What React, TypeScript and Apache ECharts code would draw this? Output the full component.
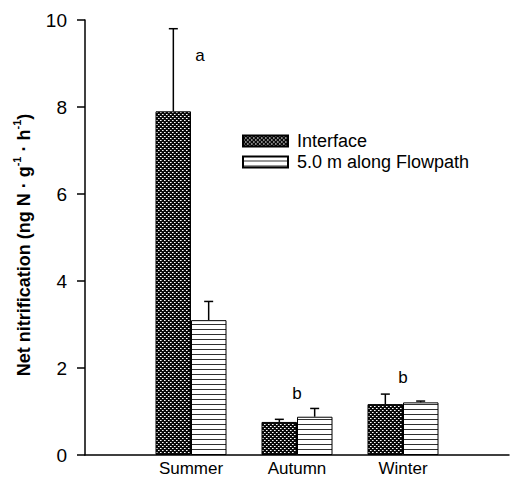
import React, { useEffect, useRef } from "react";
import * as echarts from "echarts";

const categories = ["", "Summer", "Autumn", "Winter", ""];
const interfaceValues: (number | string)[] = ["-", 7.9, 0.76, 1.17, "-"];
const interfaceErrTop = [9.8, 0.82, 1.4];
const flowpathValues: (number | string)[] = ["-", 3.1, 0.88, 1.21, "-"];
const flowpathErrTop = [3.53, 1.07, 1.24];
const seasonIndex = [1, 2, 3];
const letterText = ["a", "b", "b"];
const letterValue = [9.18, 1.42, 1.79];
const letterDx = [9, 0, 0];
const yTicks = [0, 2, 4, 6, 8, 10];

function makeDots(): HTMLCanvasElement {
  const c = document.createElement("canvas");
  c.width = 4;
  c.height = 4;
  const g = c.getContext("2d")!;
  g.fillStyle = "#0a0a0a";
  g.fillRect(0, 0, 4, 4);
  g.fillStyle = "#ffffff";
  g.fillRect(0, 0, 1, 1);
  g.fillRect(2, 2, 1, 1);
  g.fillStyle = "#9a9a9a";
  g.fillRect(1, 0, 1, 1);
  g.fillRect(3, 2, 1, 1);
  return c;
}

function makeLines(): HTMLCanvasElement {
  const c = document.createElement("canvas");
  c.width = 4;
  c.height = 5;
  const g = c.getContext("2d")!;
  g.fillStyle = "#ffffff";
  g.fillRect(0, 0, 4, 5);
  g.fillStyle = "#303030";
  g.fillRect(0, 4, 4, 1);
  return c;
}

export default function App() {
  const ref = useRef<HTMLDivElement>(null);
  useEffect(() => {
    if (!ref.current) return;
    const chart = echarts.init(ref.current, undefined, { renderer: "svg" });
    const dots = makeDots();
    const lines = makeLines();
    const dotPattern: any = { image: dots.toDataURL(), repeat: "repeat", imageWidth: 4, imageHeight: 4 };
    const linePattern: any = { image: lines.toDataURL(), repeat: "repeat", imageWidth: 4, imageHeight: 5 };
    const font = "Liberation Sans, Arial, sans-serif";

    const errSeries = (tops: number[], vals: (number | string)[], sign: number) => ({
      type: "custom",
      silent: true,
      z: 1,
      data: seasonIndex.map((ci, i) => [ci, vals[ci] as number, tops[i]]),
      renderItem: (params: any, api: any) => {
        const x = api.value(0);
        const p0 = api.coord([x, api.value(1)]);
        const p1 = api.coord([x, api.value(2)]);
        const band = api.size([1, 0])[0];
        const cx = p0[0] + (sign * band) / 6;
        const st = { stroke: "#000", lineWidth: 1.5 };
        return {
          type: "group",
          children: [
            { type: "line", shape: { x1: cx, y1: p0[1], x2: cx, y2: p1[1] }, style: st },
            { type: "line", shape: { x1: cx - 4.5, y1: p1[1], x2: cx + 4.5, y2: p1[1] }, style: st },
          ],
        };
      },
    });

    chart.setOption({
      animation: false,
      backgroundColor: "#fff",
      grid: { left: 85, top: 20, width: 425, height: 435 },
      legend: {
        orient: "vertical",
        left: 237,
        top: 127,
        itemWidth: 45,
        itemHeight: 11,
        itemGap: 3,
        icon: "rect",
        textStyle: { fontFamily: font, fontSize: 18, color: "#000", padding: [0, 0, 0, 4] },
        data: ["Interface", "5.0 m along Flowpath"],
      },
      xAxis: {
        type: "category",
        data: categories,
        boundaryGap: false,
        axisLine: { lineStyle: { color: "#000", width: 1.5 } },
        axisTick: { show: false },
        axisLabel: { fontFamily: font, fontSize: 17, color: "#000", margin: 5, interval: 0 },
        splitLine: { show: false },
      },
      yAxis: {
        type: "value",
        min: 0,
        max: 10,
        interval: 2,
        axisLine: { show: true, lineStyle: { color: "#000", width: 1.5 } },
        axisTick: { show: true, length: 8, lineStyle: { color: "#000", width: 1.5 } },
        axisLabel: {
          fontFamily: font,
          fontSize: 19,
          color: "#000",
          margin: 18,
          formatter: (v: number) => (yTicks.includes(v) ? String(v) : ""),
        },
        splitLine: { show: false },
      },
      graphic: [
        {
          type: "text",
          x: 22,
          y: 245,
          rotation: Math.PI / 2,
          style: {
            text: "{m|Net nitrification (ng N · g}{s|-1}{m| · h}{s|-1}{m|)}",
            align: "center",
            verticalAlign: "middle",
            fill: "#000",
            rich: {
              m: { fontFamily: font, fontSize: 18, fontWeight: "bold", lineHeight: 22, verticalAlign: "bottom" },
              s: { fontFamily: font, fontSize: 11, fontWeight: "bold", lineHeight: 22, verticalAlign: "top", padding: [0, 0, 9, 0] },
            },
          },
        },
      ],
      series: [
        {
          name: "Interface",
          type: "bar",
          data: interfaceValues,
          barWidth: 35.5,
          barGap: "0%",
          z: 2,
          itemStyle: { color: dotPattern, borderColor: "#000", borderWidth: 1 },
        },
        {
          name: "5.0 m along Flowpath",
          type: "bar",
          data: flowpathValues,
          barWidth: 35.5,
          barGap: "0%",
          z: 2,
          itemStyle: { color: linePattern, borderColor: "#000", borderWidth: 1 },
        },
        errSeries(interfaceErrTop, interfaceValues, -1),
        errSeries(flowpathErrTop, flowpathValues, 1),
        {
          type: "custom",
          silent: true,
          data: seasonIndex.map((ci, i) => [ci, letterValue[i], i]),
          renderItem: (params: any, api: any) => {
            const i = api.value(2);
            const p = api.coord([api.value(0), api.value(1)]);
            return {
              type: "text",
              x: p[0] + letterDx[i],
              y: p[1],
              style: {
                text: letterText[i],
                fontFamily: font,
                fontSize: 17,
                fill: "#000",
                align: "center",
                verticalAlign: "middle",
              },
            };
          },
        },
      ],
    });
    return () => chart.dispose();
  }, []);
  return (
    <div
      ref={ref}
      style={{ position: "fixed", left: 0, top: 0, width: 512, height: 481, background: "#fff" }}
    />
  );
}
